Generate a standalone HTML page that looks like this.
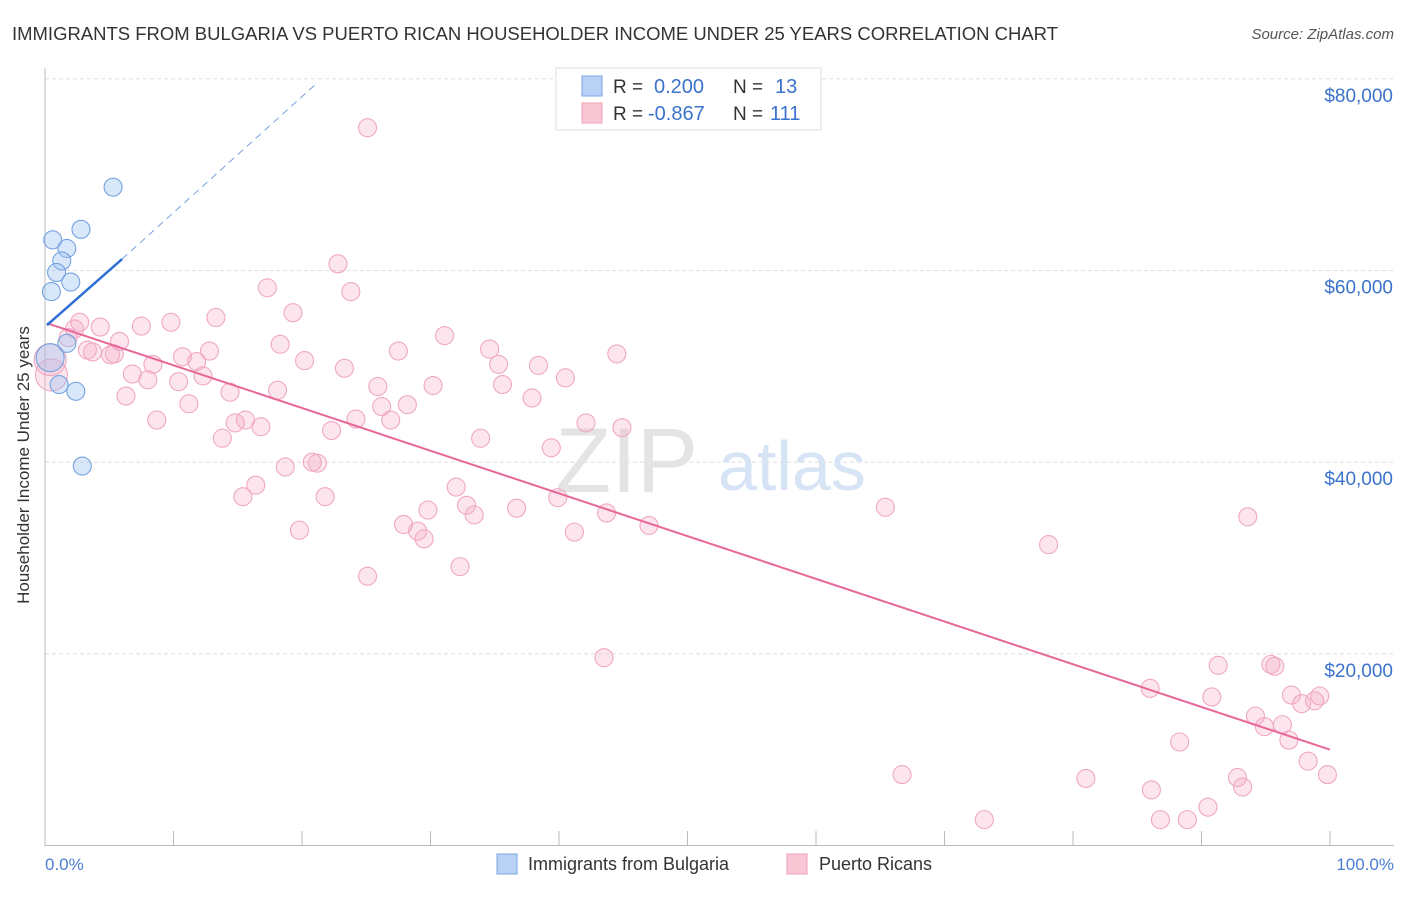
<!DOCTYPE html>
<html><head><meta charset="utf-8"><style>
body{margin:0;background:#fff;font-family:"Liberation Sans",sans-serif}
svg text{font-family:"Liberation Sans",sans-serif}
</style></head><body>
<svg id="c" width="1406" height="892">
<text x="12" y="40" font-size="18" fill="#333" textLength="1046" lengthAdjust="spacingAndGlyphs">IMMIGRANTS FROM BULGARIA VS PUERTO RICAN HOUSEHOLDER INCOME UNDER 25 YEARS CORRELATION CHART</text>
<text x="1394" y="39" font-size="15" fill="#555" font-style="italic" text-anchor="end">Source: ZipAtlas.com</text>
<g id="grid"></g>
<text x="555" y="492" font-size="92" fill="#e4e4e4" font-family="Liberation Serif">ZIP</text>
<text x="718" y="490" font-size="70" fill="#d6e4f5">atlas</text>
<line x1="45" y1="68" x2="45" y2="846" stroke="#bbb"/>
<line x1="45" y1="845.5" x2="1394" y2="845.5" stroke="#bbb"/>
<text x="21" y="457" font-size="17" fill="#333" text-anchor="middle" transform="rotate(-90 29 457)">Householder Income Under 25 years</text>
<text x="45" y="870" font-size="17" fill="#4a7fd4">0.0%</text>
<text x="1394" y="870" font-size="17" fill="#4a7fd4" text-anchor="end">100.0%</text>
<g id="marks"></g>
<g>
<rect x="556" y="68" width="265" height="62" fill="#fff" stroke="#ddd"/>
<rect x="582" y="76" width="20" height="20" fill="#b8d2f5" stroke="#7aa6e3"/>
<rect x="582" y="103" width="20" height="20" fill="#f9c6d5" stroke="#eea3bb"/>
<text x="613" y="93" font-size="19" fill="#333">R = </text><text x="654" y="93" font-size="20" fill="#3b73cc">0.200</text>
<text x="733" y="93" font-size="19" fill="#333">N = </text><text x="775" y="93" font-size="20" fill="#3b73cc">13</text>
<text x="613" y="120" font-size="19" fill="#333">R = </text><text x="648" y="120" font-size="20" fill="#3b73cc">-0.867</text>
<text x="733" y="120" font-size="19" fill="#333">N = </text><text x="770" y="120" font-size="20" fill="#3b73cc">111</text>
</g>
<g>
<rect x="497" y="854" width="20" height="20" fill="#b8d2f5" stroke="#7aa6e3"/>
<text x="528" y="870" font-size="18" fill="#333">Immigrants from Bulgaria</text>
<rect x="787" y="854" width="20" height="20" fill="#f9c6d5" stroke="#eea3bb"/>
<text x="819" y="870" font-size="18" fill="#333">Puerto Ricans</text>
</g>
</svg>
<script>
const yTicks=[20000,40000,60000,80000];
const yTickLabels=["$20,000","$40,000","$60,000","$80,000"];
const xTicks=[0,10,20,30,40,50,60,70,80,90,100];
const blueX=[5.3,2.8,0.6,1.7,1.3,0.9,2.0,0.5,1.7,0.4,1.1,2.4,2.9];
const blueY=[68.7,64.3,63.2,62.3,61.0,59.8,58.8,57.8,52.4,50.9,48.1,47.4,39.6];
const blueR=[9,9,9,9,9,9,9,9,9,14,9,9,9];
const pinkX=[25.1,22.8,17.3,23.8,19.3,13.3,9.8,7.5,4.3,2.7,2.3,5.8,1.8,3.3,3.7,5.1,5.4,12.8,10.7,11.8,18.3,20.2,27.5,31.1,34.6,35.3,38.4,44.5,23.3,25.9,30.2,35.6,40.5,37.9,8.4,6.8,8.0,10.4,12.3,14.4,18.1,6.3,11.2,8.7,14.8,15.6,16.8,13.8,24.2,26.2,26.9,28.2,22.3,33.9,39.4,42.1,44.9,16.4,15.4,18.7,20.8,21.2,21.8,19.8,32.0,32.8,33.4,27.9,29.0,29.5,29.8,36.7,39.9,41.2,43.7,47.0,32.3,25.1,43.5,65.4,78.1,93.6,86.0,91.3,95.4,95.7,90.8,97.0,99.2,94.2,94.9,96.3,97.8,98.8,96.8,88.3,98.3,99.8,66.7,81.0,86.1,92.8,93.2,90.5,86.8,88.9,73.1,0.4,0.5];
const pinkY=[74.9,60.7,58.2,57.8,55.6,55.1,54.6,54.2,54.1,54.6,53.9,52.6,53.0,51.7,51.5,51.2,51.3,51.6,51.0,50.5,52.3,50.6,51.6,53.2,51.8,50.2,50.1,51.3,49.8,47.9,48.0,48.1,48.8,46.7,50.2,49.2,48.6,48.4,49.0,47.3,47.5,46.9,46.1,44.4,44.1,44.4,43.7,42.5,44.5,45.8,44.4,46.0,43.3,42.5,41.5,44.1,43.6,37.6,36.4,39.5,40.0,39.9,36.4,32.9,37.4,35.5,34.5,33.5,32.8,32.0,35.0,35.2,36.3,32.7,34.7,33.4,29.1,28.1,19.6,35.3,31.4,34.3,16.4,18.8,18.9,18.7,15.5,15.7,15.6,13.5,12.4,12.6,14.8,15.1,11.0,10.8,8.8,7.4,7.4,7.0,5.8,7.1,6.1,4.0,2.7,2.7,2.7,50.7,49.1];
const blueTrend=[[0.15,54.3],[6.0,61.2],[21.2,79.6]];
const pinkTrend=[[0.15,54.5],[100,10.0]];
const sx=v=>45+v*12.85;
const sy=v=>845.5-v*9.583;
const NS="http://www.w3.org/2000/svg";
function mk(t,a,p){const e=document.createElementNS(NS,t);for(const k in a)e.setAttribute(k,a[k]);p.appendChild(e);return e;}
const grid=document.getElementById('grid'),marks=document.getElementById('marks');
yTicks.forEach((v,i)=>{
 const l=mk('line',{x1:45,x2:1394,y1:sy(v/1000),y2:sy(v/1000),stroke:'#ddd','stroke-dasharray':'4,3'},grid);
 
 
 const t=mk('text',{x:1393,y:sy(v/1000)+23,'font-size':19,fill:'#3b73cc','text-anchor':'end'},grid);
 t.textContent=yTickLabels[i];
 
 
});
xTicks.forEach(v=>{
 const l=mk('line',{x1:sx(v),x2:sx(v),y1:831,y2:846,stroke:'#bbb'},grid);
 
 
});
pinkX.forEach((x,i)=>{
 const c=mk('circle',{cx:sx(x),cy:sy(pinkY[i]),r:i>=pinkX.length-2?16:9,fill:'rgba(246,170,195,0.3)',stroke:'#f0a8c0','stroke-width':1.1},marks);
 
 
});
blueX.forEach((x,i)=>{
 const c=mk('circle',{cx:sx(x),cy:sy(blueY[i]),r:blueR[i],fill:'rgba(160,196,242,0.4)',stroke:'#75a3e0','stroke-width':1.1},marks);
 
 
});
const pl=mk('line',{x1:sx(pinkTrend[0][0]),y1:sy(pinkTrend[0][1]),x2:sx(pinkTrend[1][0]),y2:sy(pinkTrend[1][1]),stroke:'#e8679a','stroke-width':2},marks);


const bl=mk('line',{x1:sx(blueTrend[0][0]),y1:sy(blueTrend[0][1]),x2:sx(blueTrend[1][0]),y2:sy(blueTrend[1][1]),stroke:'#2f6fd6','stroke-width':2.5},marks);


const bd=mk('line',{x1:sx(blueTrend[1][0]),y1:sy(blueTrend[1][1]),x2:sx(blueTrend[2][0]),y2:sy(blueTrend[2][1]),stroke:'#7a9fdc','stroke-width':1,'stroke-dasharray':'7,5'},marks);


</script>
</body></html>
